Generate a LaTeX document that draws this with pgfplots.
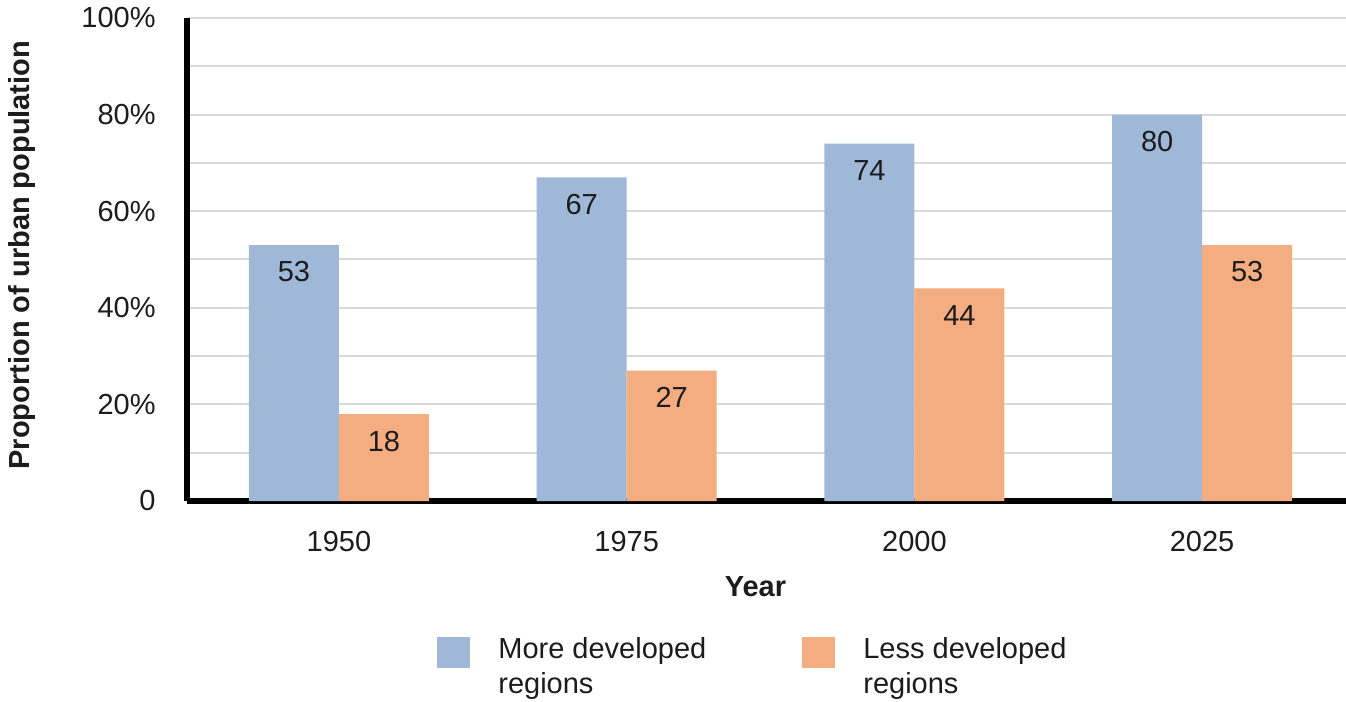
\documentclass[border=0pt]{standalone}
\usepackage{fontspec}
\setmainfont{Liberation Sans}
\usepackage{pgfplots}
\pgfplotsset{compat=1.18}
\definecolor{moreblue}{RGB}{159,184,216}
\definecolor{lessorange}{RGB}{244,173,128}
\definecolor{gridgray}{RGB}{217,217,217}
\definecolor{txt}{RGB}{28,28,28}
\newcommand{\fsz}{\fontsize{14.5}{17.5}\selectfont}

\begin{document}
\begin{tikzpicture}
\begin{axis}[
    at={(0,0)}, anchor=south west,
    scale only axis,
    width=579.5pt, height=241.5pt,
    xmin=-0.528, xmax=3.5,
    ymin=0, ymax=100,
    ybar=0pt, bar width=45pt,
    xtick={0,1,2,3},
    xticklabels={1950,1975,2000,2025},
    ytick={0,20,40,60,80,100},
    yticklabels={0,20\%,40\%,60\%,80\%,100\%},
    minor ytick={10,30,50,70,90},
    ymajorgrids, yminorgrids,
    major grid style={gridgray, line width=1pt},
    minor grid style={gridgray, line width=1pt},
    axis x line*=bottom, axis y line*=left,
    axis line style={black, line width=3pt},
    major tick length=0pt, minor tick length=0pt,
    tick style={draw=none},
    /pgf/number format/assume math mode=true,
    tick label style={font=\fsz, text=txt, inner sep=0pt},
    yticklabel style={anchor=east, xshift=-15.5pt},
    xticklabel style={anchor=center, yshift=-20.5pt},
    xlabel={\textbf{Year}},
    xlabel style={at={(axis description cs:0.4905,-0.178)}, anchor=center, font=\fsz, text=txt},
    ylabel={\textbf{Proportion of urban population}},
    ylabel style={at={(axis description cs:-0.1424,0.509)}, anchor=center, font=\fsz, text=txt},
    nodes near coords,
    nodes near coords align=center,
    every node near coord/.append style={font=\fsz, text=txt, yshift=-13.5pt},
    legend columns=2,
    legend style={
        at={(axis description cs:0.2157,-0.2816)}, anchor=north west,
        draw=none, fill=none, inner sep=0pt, font=\fsz, text=txt,
        nodes={inner sep=0pt, align=left},
        /tikz/every odd column/.append style={column sep=14pt},
        /tikz/every even column/.append style={column sep=48pt},
    },
    legend cell align=left,
]
\addplot[fill=moreblue, draw=none,
    legend image code/.code={\fill[moreblue] (0pt,-0.5pt) rectangle (16.5pt,15pt);}]
    coordinates {(0,53) (1,67) (2,74) (3,80)};
\addlegendentry{More developed\\regions}
\addplot[fill=lessorange, draw=none,
    legend image code/.code={\fill[lessorange] (0pt,-0.5pt) rectangle (16.5pt,15pt);}]
    coordinates {(0,18) (1,27) (2,44) (3,53)};
\addlegendentry{Less developed\\regions}
\end{axis}
\pgfresetboundingbox
\path[use as bounding box] (-93.5pt,-100.5pt) rectangle (579.5pt,250.5pt);
\end{tikzpicture}
\end{document}
